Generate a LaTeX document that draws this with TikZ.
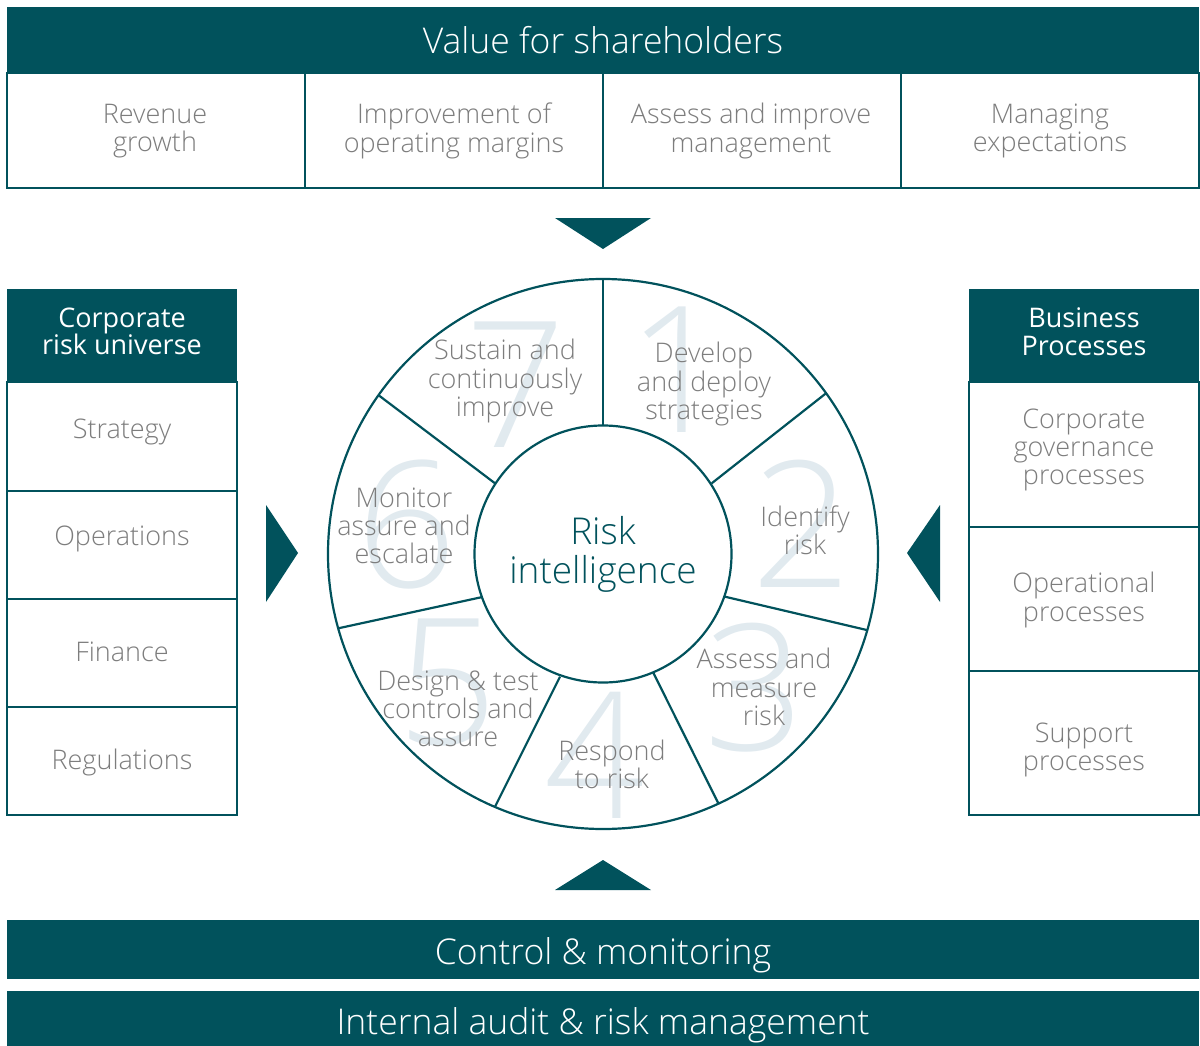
\documentclass[tikz,border=0pt]{standalone}
\usepackage{fontspec}
\setmainfont{Open Sans}
\IfFontExistsTF{Open Sans Light}{\newfontfamily\lt{Open Sans Light}}{\newfontfamily\lt{Open Sans}}
\definecolor{deep}{RGB}{1,82,92}
\definecolor{txtgray}{RGB}{125,125,125}
\definecolor{numc}{RGB}{225,234,239}
\begin{document}
\begin{tikzpicture}[x=1pt,y=-1pt,
  bar/.style={fill=deep, draw=none, inner sep=0pt, outer sep=0pt},
  cell/.style={draw=deep, line width=2pt, fill=white, inner sep=0pt, outer sep=0pt},
  gtxt/.style={text=txtgray, align=center, inner sep=0pt, yshift=-3pt, font=\lt\fontsize{27}{28.2}\selectfont},
  htxt/.style={text=white, align=center, inner sep=0pt, font=\fontsize{27}{27.5}\selectfont},
  bigw/.style={text=white, inner sep=0pt, font=\lt\fontsize{35.5}{37}\selectfont},
  num/.style={text=numc, inner sep=0pt, font=\lt\fontsize{176}{176}\selectfont},
  ring/.style={draw=deep, line width=2.2pt},
  tri/.style={fill=deep, draw=none}]
\useasboundingbox (0,0) rectangle (1200,1046);

% ---------- top ----------
\node[bar, minimum width=1192pt, minimum height=66pt] (vsbar) at (603,40) {};
\node[bigw] (vstxt) at (603,40) {Value for shareholders};
\node[cell, minimum width=298pt, minimum height=115pt] (t1) at (156,130.5) {};
\node[cell, minimum width=298pt, minimum height=115pt] (t2) at (454,130.5) {};
\node[cell, minimum width=298pt, minimum height=115pt] (t3) at (752,130.5) {};
\node[cell, minimum width=298pt, minimum height=115pt] (t4) at (1050,130.5) {};
\node[gtxt] (t1t) at (155,128) {Revenue\\growth};
\node[gtxt] (t2t) at (454,128) {Improvement of\\operating margins};
\node[gtxt] (t3t) at (751,128) {Assess and improve\\management};
\node[gtxt] (t4t) at (1050,128) {Managing\\expectations};

% ---------- triangles ----------
\fill[tri] (555,218) -- (651,218) -- (603,249) -- cycle;
\fill[tri] (555,890) -- (651,890) -- (603,860) -- cycle;
\fill[tri] (266,505) -- (266,602) -- (298,553) -- cycle;
\fill[tri] (940,505) -- (940,602) -- (907,553) -- cycle;

% ---------- left panel ----------
\node[bar, minimum width=230pt, minimum height=93pt] (lh) at (122,335.5) {};
\node[htxt] (lht) at (122,331.5) {Corporate\\risk universe};
\node[cell, minimum width=230pt, minimum height=109pt] (l1) at (122,436.5) {};
\node[cell, minimum width=230pt, minimum height=108pt] (l2) at (122,545) {};
\node[cell, minimum width=230pt, minimum height=108pt] (l3) at (122,653) {};
\node[cell, minimum width=230pt, minimum height=108pt] (l4) at (122,761) {};
\node[gtxt] (l1t) at (122,429) {Strategy};
\node[gtxt] (l2t) at (122,536) {Operations};
\node[gtxt] (l3t) at (122,649) {Finance};
\node[gtxt] (l4t) at (122,759) {Regulations};

% ---------- right panel ----------
\node[bar, minimum width=230pt, minimum height=93pt] (rh) at (1084,335.5) {};
\node[htxt] (rht) at (1084,331.5) {Business\\Processes};
\node[cell, minimum width=230pt, minimum height=145pt] (r1) at (1084,454.5) {};
\node[cell, minimum width=230pt, minimum height=144pt] (r2) at (1084,599) {};
\node[cell, minimum width=230pt, minimum height=144pt] (r3) at (1084,743) {};
\node[gtxt] (r1t) at (1084,447) {Corporate\\governance\\processes};
\node[gtxt] (r2t) at (1084,597) {Operational\\processes};
\node[gtxt] (r3t) at (1084,747) {Support\\processes};

% ---------- wheel ----------
\coordinate (c) at (603,554);
\node[num] (n7) at (516,385) {7};
\node[num] (n1) at (678,370) {1};
\node[num] (n2) at (802,524) {2};
\node[num] (n3) at (755,688) {3};
\node[num] (n4) at (595,755) {4};
\node[num] (n5) at (448,683) {5};
\node[num] (n6) at (407,525) {6};

\node[gtxt] (s7) at (505,378) {Sustain and\\continuously\\improve};
\node[gtxt] (s1) at (704,381) {Develop\\and deploy\\strategies};
\node[gtxt] (s2) at (805,527) {Identify\\risk};
\node[gtxt] (s3) at (764,684) {Assess and\\measure\\risk};
\node[gtxt] (s4) at (612,761) {Respond\\to risk};
\node[gtxt] (s5) at (458,706) {Design \& test\\controls and\\assure};
\node[gtxt] (s6) at (404,523) {Monitor\\assure and\\escalate};

\draw[ring] (c) circle[radius=275pt];
\node[circle, ring, fill=white, minimum size=257pt, inner sep=0pt, text=deep, align=center,
      font=\lt\fontsize{37}{39}\selectfont] (ri) at (c) {Risk\\intelligence};

\coordinate (o1) at (603,278.5);   \coordinate (i1) at (603,425.5);
\coordinate (o2) at (826,393.3);   \coordinate (i2) at (711.7,483.3);
\coordinate (o3) at (866.7,630);   \coordinate (i3) at (725,596.7);
\coordinate (o4) at (718.3,803.3); \coordinate (i4) at (653.3,672.7);
\coordinate (o5) at (495,806.7);   \coordinate (i5) at (560,676.7);
\coordinate (o6) at (338.3,628.3); \coordinate (i6) at (481,597.3);
\coordinate (o7) at (378.3,395);   \coordinate (i7) at (495,483.3);
\foreach \k in {1,...,7} { \draw[ring] (o\k) -- (i\k); }

% ---------- bottom ----------
\node[bar, minimum width=1192pt, minimum height=59pt] (cmbar) at (603,949.5) {};
\node[bigw] (cmtxt) at (603,955) {Control \& monitoring};
\node[bar, minimum width=1192pt, minimum height=55pt] (iabar) at (603,1018.5) {};
\node[bigw] (iatxt) at (603,1025) {Internal audit \& risk management};
\end{tikzpicture}
\end{document}
